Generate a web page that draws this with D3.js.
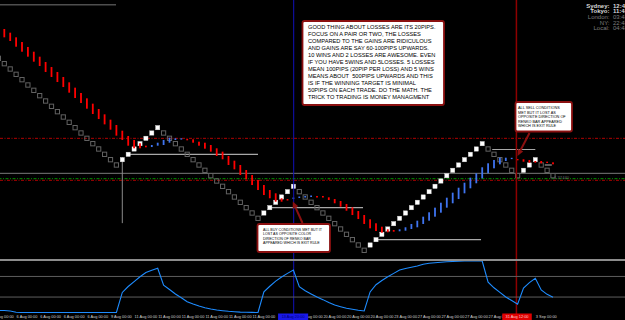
<!DOCTYPE html>
<html><head><meta charset="utf-8">
<script src="https://cdn.jsdelivr.net/npm/d3@7"></script>
<style>html,body{margin:0;padding:0;background:#000;overflow:hidden}svg{display:block}</style>
</head><body><svg id="c" width="625" height="320"></svg>
<script>
// ---------------- DATA ----------------
// Renko bricks: first column index, top level of each brick (in brick units), direction (U up / D down)
const firstBrickCol = -1;
const brickTop = [1,0,-1,-2,-3,-4,-5,-6,-7,-8,-9,-10,-11,-12,-13,-14,-15,-16,-17,-18,-19,
  -18,-17,-16,-15,-14,-13,-12,
  -13,-14,-15,-16,-17,-18,-19,-20,-21,-22,-23,-24,-25,-26,-27,-28,-29,
  -28,-27,-26,-25,-24,-23,
  -24,-25,-26,-27,-28,-29,-30,-31,-32,-33,-34,-35,
  -34,-33,-32,-31,-30,-29,-28,-27,-26,-25,-24,-23,-22,-21,-20,-19,-18,-17,-16,-15,
  -16,-17,-18,-19,-20,-21,
  -20,-19,-18,
  -19,-20,-21];
const brickDir = ("DDDDDDDDDDDDDDDDDDDDD"+"UUUUUUU"+"DDDDDDDDDDDDDDDDD"+"UUUUUU"+
  "DDDDDDDDDDDD"+"UUUUUUUUUUUUUUUUUUUU"+"DDDDDD"+"UUU"+"DDD").split("");

// Trend histogram (between fast and slow line), columns 0..93
const histHi = [6.0,5.31,4.44,3.56,2.63,1.74,0.81,-0.19,-1.13,-2.06,-3.0,-4.0,-5.0,-6.0,-7.0,-8.0,-9.0,-10.0,-11.0,-12.0,
  -13.07,-14.06,-14.81,-15.43,-15.88,-15.75,-15.32,-14.81,-14.38,-14.49,-14.49,-14.63,-14.68,-15.13,-15.32,-15.75,-16.37,-17.0,-17.81,-18.69,
  -19.5,-20.44,-21.38,-22.31,-23.25,-24.19,-24.81,-25.74,-25.88,-25.6,-25.41,-25.31,-25.22,-25.31,-25.31,-25.56,-25.88,-26.25,-26.81,-27.43,
  -28.13,-28.88,-29.68,-30.43,-31.07,-31.56,-31.69,-31.56,-31.18,-30.56,-29.94,-29.19,-28.37,-27.5,-26.57,-25.63,-24.69,-23.76,-22.82,-21.88,
  -21.06,-19.93,-19.18,-18.56,-18.13,-18.13,-18.15,-18.38,-18.43,-18.56,-18.75,-18.75,-18.88,-19.0];
const histLo = [4.44,3.75,2.68,1.74,0.81,-0.13,-0.94,-2.06,-3.0,-3.94,-4.88,-5.94,-6.94,-7.88,-8.94,-9.94,-10.88,-11.88,-12.88,-14.0,
  -14.81,-15.88,-16.37,-16.37,-16.18,-16.13,-15.88,-15.75,-15.32,-14.81,-14.68,-14.81,-15.32,-15.88,-16.44,-17.0,-17.81,-18.43,-19.5,-20.31,
  -21.38,-22.18,-23.25,-24.19,-25.13,-25.74,-26.38,-26.38,-26.16,-25.88,-25.69,-25.6,-25.5,-25.6,-25.6,-26.06,-26.68,-27.32,-28.07,-28.88,
  -29.63,-30.56,-31.37,-31.88,-32.19,-32.12,-32.01,-31.93,-31.82,-31.5,-31.18,-30.56,-29.94,-29.19,-28.44,-27.5,-26.68,-25.88,-24.81,-23.87,
  -22.93,-22.0,-21.06,-20.12,-19.37,-18.75,-18.34,-18.56,-18.88,-19.07,-19.07,-19.18,-19.07,-19.37];
const histTrend = ("RRRRRRRRRRRRRRRRRRRRRRRRR"+"BBBBBB"+"RRRRRRRRRRRRRRRRRR"+"BBBB"+
  "RRRRRRRRRRRRRR"+"BBBBBBBBBBBBBBBBBBBB"+"RRRRRRR").split("");

// Oscillator (lower window), columns -1..93
const oscValues = [4,4,3,0.5,0,0,0,0,0,0,0,0,0,0,0,0,0,0,0,0,0,
  39,50.5,60,69.5,77.7,82,85.8,
  53,44.7,36,28.7,21,16.5,12.6,9.3,6.8,4.9,3.5,2.3,1.5,0.8,0.4,0.2,0,
  40,51,61,69,76,82.5,
  50,42.3,36,30,25,19.4,14.6,11.3,8.2,6.2,4.3,3,
  40,54,62,69.5,76,82.5,85.4,87.8,90.3,93.6,95.5,96.7,97.5,98.4,99,99.6,100,100,100,100,
  59,48,39,30,23.3,16,
  47.6,58,66.4,
  43.7,35.3,29.5];
const oscLevels = [70, 30];

// Horizontal levels (brick units)
const redDashLevels = [-14.5, -22.37];
const greenDashLevels = [-22.07];
const grayLevels = [-21.06];
// short support/resistance segments
const segStart = [21.0, 45.0, 63.2, 82.7, 91.6];
const segEnd   = [43.0, 60.8, 80.8, 90.0, 92.8];
const segLevel = [-17.5, -27.5, -33.5, -16.6, -19.5];

// vertical markers (column index)
const blueVCol = 49.05, redVCol = 86.8;
const grayVCol = 20, grayVFrom = -18, grayVTo = -30.4;

// time axis (labels hidden under the marker boxes are omitted)
const tickCols = [-2,2,6,10,14,18,22,26,30,34,38,42,50,54,58,62,66,70,74,78,82,90];
const tickLabels = ["4 Aug 00:00","6 Aug 00:00","6 Aug 00:00","6 Aug 00:00","6 Aug 00:00","9 Aug 00:00",
  "11 Aug 00:00","11 Aug 00:00","11 Aug 00:00","11 Aug 00:00","11 Aug 00:00","11 Aug 00:00",
  "18 Aug 00:00","20 Aug 00:00","20 Aug 00:00","20 Aug 00:00","23 Aug 00:00","27 Aug 00:00","27 Aug 00:00",
  "27 Aug 00:00","27 Aug 00:00","3 Sep 00:00"];
const blueTimeLabel = "13 Aug 20:00", redTimeLabel = "31 Aug 12:00";

// clocks
const clockNames = ["Sydney:","Tokyo:","London:","NY:","Local:"];
const clockTimes = ["12:48","11:48","03:48","22:48","04:48"];

// notes
const note1 = ["GOOD THING ABOUT LOSSES ARE ITS 20PIPS.","FOCUS ON A PAIR OR TWO, THE LOSSES",
  "COMPARED TO THE GAINS ARE RIDICULOUS","AND GAINS ARE SAY 60-100PIPS UPWARDS.",
  "10 WINS AND 2 LOSSES ARE AWESOME. EVEN","IF YOU HAVE 5WINS AND 5LOSSES. 5 LOSSES",
  "MEAN 100PIPS (20PIP PER LOSS) AND 5 WINS","MEANS ABOUT  500PIPS UPWARDS AND THIS",
  "IS IF THE WINNING TARGET IS MINIMAL","50PIPS ON EACH TRADE. DO THE MATH. THE",
  "TRICK TO TRADING IS MONEY MANAGMENT"];
const note2 = ["ALL SELL CONDITIONS","MET BUT IT LOST AS","OPPOSITE DIRECTION OF","RENKO BAR APPEARED","WHICH IS EXIT RULE"];
const note3 = ["ALL BUY CONDITIONS MET BUT IT","LOST AS OPPOSITE COLOR","DIRECTION OF RENKO BAR","APPEARED WHICH IS EXIT RULE"];
const priceTag = "1.37440";

// ---------------- DRAW ----------------
const W=625,H=320;
const svg=d3.select('#c').style('font-family','"Liberation Sans", Arial, sans-serif');
svg.append('rect').attr('width',W).attr('height',H).attr('fill','#000');
const defs=svg.append('defs');
defs.append('clipPath').attr('id','cm').append('rect').attr('x',0).attr('y',0).attr('width',W).attr('height',259);
defs.append('clipPath').attr('id','ci').append('rect').attr('x',0).attr('y',261).attr('width',W).attr('height',52);

const x=d3.scaleLinear().domain([0,93]).range([4.3,553]);
const y=d3.scaleLinear().domain([0,-35]).range([61,247.66]);
const yi=d3.scaleLinear().domain([0,100]).range([312.5,261]);
const brickH = y(-1)-y(0);

const main=svg.append('g').attr('clip-path','url(#cm)');

// top-left line
main.append('line').attr('x1',0).attr('x2',116).attr('y1',4.8).attr('y2',4.8).attr('stroke','#4e4e4e').attr('stroke-width',1.5);

// full width levels
main.selectAll('.gl').data(grayLevels).join('line').attr('x1',0).attr('x2',W)
  .attr('y1',d=>y(d)).attr('y2',d=>y(d)).attr('stroke','#7a7a7a').attr('stroke-width',1);
main.selectAll('.rl').data(redDashLevels).join('line').attr('x1',0).attr('x2',W)
  .attr('y1',d=>y(d)).attr('y2',d=>y(d)).attr('stroke','#b00000').attr('stroke-width',1)
  .attr('stroke-dasharray','3,1.5,1,1.5');
main.selectAll('.gnl').data(greenDashLevels).join('line').attr('x1',0).attr('x2',W)
  .attr('y1',d=>y(d)).attr('y2',d=>y(d)).attr('stroke','#009000').attr('stroke-width',1)
  .attr('stroke-dasharray','3,1.5,1,1.5').attr('stroke-dashoffset',1.5);

// segments
main.selectAll('.seg').data(segLevel).join('line')
  .attr('x1',(d,i)=>x(segStart[i])).attr('x2',(d,i)=>x(segEnd[i]))
  .attr('y1',d=>y(d)).attr('y2',d=>y(d)).attr('stroke','#a8a8a8').attr('stroke-width',1.1);

// gray vertical
main.append('line').attr('x1',x(grayVCol)).attr('x2',x(grayVCol)).attr('y1',y(grayVFrom)).attr('y2',y(grayVTo))
  .attr('stroke','#8a8a8a').attr('stroke-width',1);

// bricks
const bricks = brickTop.map((t,i)=>({col:firstBrickCol+i, top:t, dir:brickDir[i]}));
main.selectAll('.bk').data(bricks).join('rect')
  .attr('x',d=>x(d.col)-2.1).attr('width',4.2)
  .attr('y',d=>y(d.top)+0.5).attr('height',brickH-1)
  .attr('fill',d=>d.dir==='U'?'#ffffff':'none')
  .attr('stroke',d=>d.dir==='U'?'#d8d8d8':'#626262').attr('stroke-width',d=>d.dir==='U'?0.4:1);

// histogram
const hist = histHi.map((h,i)=>({col:i, hi:h, lo:histLo[i], t:histTrend[i]}));
main.selectAll('.hb').data(hist).join('rect')
  .attr('x',d=>x(d.col)-0.9).attr('width',1.8)
  .attr('y',d=>y(d.hi)).attr('height',d=>Math.max(1.3,y(d.lo)-y(d.hi)))
  .attr('fill',d=>d.t==='R'?'#ff0000':'#3f74f0');

// price tag
main.append('text').attr('x',x(93)+1).attr('y',y(-22.0)+0.3).text(priceTag)
  .attr('fill','#6a6a6a').style('font-size','4.2px');

// vertical lines (full height)
svg.append('line').attr('x1',x(blueVCol)).attr('x2',x(blueVCol)).attr('y1',0).attr('y2',H)
  .attr('stroke','#1010b8').attr('stroke-width',1);
svg.append('line').attr('x1',x(redVCol)).attr('x2',x(redVCol)).attr('y1',0).attr('y2',H)
  .attr('stroke','#8e0000').attr('stroke-width',1.5);

// notes
function note(x0,y0,w,h,lines,fs,lh,tx,ty){
  const g=svg.append('g');
  g.append('rect').attr('x',x0).attr('y',y0).attr('width',w).attr('height',h).attr('rx',2)
    .attr('fill','#ffffff').attr('stroke','#8b1010').attr('stroke-width',1.8);
  g.selectAll('text').data(lines).join('text').attr('x',tx).attr('y',(d,i)=>ty+i*lh).text(d=>d)
    .attr('fill','#000').style('font-size',fs+'px').style('white-space','pre');
}
note(302.5,21,141.5,84,note1,5.7,7.0,308,29.2);
note(515.5,102,56.5,29.5,note2,3.8,4.45,518,109.4);
note(257.5,224,72.5,28,note3,3.6,4.35,263,230.8);

function arrow(x1,y1,x2,y2){
  const dx=x2-x1, dy=y2-y1, L=Math.hypot(dx,dy), ux=dx/L, uy=dy/L, hl=6.5, hw=3;
  const bx=x2-ux*hl, by=y2-uy*hl;
  svg.append('line').attr('x1',x1).attr('y1',y1).attr('x2',bx).attr('y2',by).attr('stroke','#8b1010').attr('stroke-width',2);
  svg.append('path').attr('d',`M${x2},${y2}L${bx-uy*hw},${by+ux*hw}L${bx+uy*hw},${by-ux*hw}Z`).attr('fill','#8b1010');
}
arrow(302.5,223,292.8,201.5);
arrow(529.5,133,517.5,156);

// clocks
const ck=svg.append('g').style('font-size','6px');
ck.selectAll('.cn').data(clockNames).join('text').attr('x',609.5).attr('y',(d,i)=>7.7+i*5.65)
  .attr('text-anchor','end').text(d=>d).attr('fill',(d,i)=>i<2?'#d8d8d8':'#7c7c7c')
  .style('font-weight',(d,i)=>i<2?'bold':'normal');
ck.selectAll('.ct').data(clockTimes).join('text').attr('x',613).attr('y',(d,i)=>7.7+i*5.65)
  .text(d=>d).attr('fill',(d,i)=>i<2?'#d8d8d8':'#7c7c7c')
  .style('font-weight',(d,i)=>i<2?'bold':'normal');

// ---- indicator window ----
svg.append('line').attr('x1',0).attr('x2',W).attr('y1',260).attr('y2',260).attr('stroke','#8c8c8c').attr('stroke-width',2);
svg.selectAll('.ol').data(oscLevels).join('line').attr('x1',0).attr('x2',W)
  .attr('y1',d=>yi(d)).attr('y2',d=>yi(d)).attr('stroke','#5e5e5e').attr('stroke-width',1);
const osc = oscValues.map((v,i)=>({col:firstBrickCol+i, v}));
svg.append('path').datum(osc).attr('clip-path','url(#ci)')
  .attr('d',d3.line().x(d=>x(d.col)).y(d=>yi(d.v)))
  .attr('fill','none').attr('stroke','#1e8cff').attr('stroke-width',1.1);

// time axis
const axis=d3.axisBottom(x).tickValues(tickCols).tickFormat((d,i)=>tickLabels[i]).tickSize(0).tickPadding(0);
const ax=svg.append('g').attr('transform','translate(0,314)').call(axis);
ax.select('.domain').remove();
ax.attr('font-family',null).attr('font-size',null);
ax.selectAll('text').attr('text-anchor','start').attr('dy',null).attr('y',4.4)
  .attr('fill','#d0d0d0').style('font-size','3.9px');

function timeBox(c0,c1,fill,txt,tc){
  svg.append('rect').attr('x',x(c0)).attr('y',313.5).attr('width',x(c1)-x(c0)).attr('height',6.5).attr('fill',fill);
  svg.append('text').attr('x',(x(c0)+x(c1))/2).attr('y',318.4).attr('text-anchor','middle')
    .text(txt).attr('fill',tc).style('font-size','3.9px');
}
timeBox(46.4,51.5,'#1818e8',blueTimeLabel,'#000070');
timeBox(84.4,89.4,'#e00000',redTimeLabel,'#ffd0d0');
</script></body></html>
